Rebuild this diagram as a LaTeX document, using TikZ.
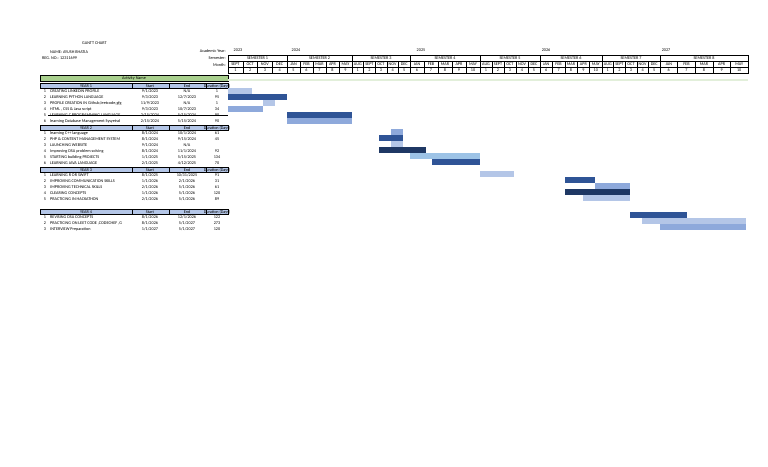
\documentclass[tikz,border=0pt]{standalone}
\usepackage{fontspec}
\setmainfont{Carlito}
\tikzset{every picture/.style={line width=0.4pt}}
\tikzset{
  tiny/.style={inner sep=0pt,font=\fontsize{4.2}{4.6}\selectfont},
  hdrcell/.style={draw=black,fill={rgb,255:red,180;green,198;blue,231},line width=0.6pt},
  lightbar/.style={fill={rgb,255:red,180;green,198;blue,231}},
  medbar/.style={fill={rgb,255:red,142;green,169;blue,219}},
  darkbar/.style={fill={rgb,255:red,47;green,84;blue,150}},
  navybar/.style={fill={rgb,255:red,31;green,56;blue,100}},
  skybar/.style={fill={rgb,255:red,157;green,195;blue,230}}
}
\begin{document}
\begin{tikzpicture}[x=1pt,y=1pt,yscale=-1]
        \useasboundingbox (0,0) rectangle (768,466);

        % title block
        \node[tiny,anchor=west] (title) at (82,43) {GANTT CHART};
        \node[tiny,anchor=west] (name) at (50,52) {NAME: AYUSH BHATIA};
        \node[tiny,anchor=west] (reg) at (42,58) {REG. NO.: 12311699};
        \node[tiny,anchor=east] (acyear) at (226,51) {Academic Year:};
        \node[tiny,anchor=east] (sem) at (226,58) {Semester:};
        \node[tiny,anchor=east] (mon) at (226,65) {Month:};

        % years
        \foreach \x/\y in {238/2023,296/2024,421/2025,546/2026,666/2027}
            \node[tiny] (yr\y) at (\x,50) {\y};

        % semester header with months
        \foreach \a/\b/\s/\ml/\nl [count=\i] in {
            228/287/SEMESTER 1/{SEPT,OCT,NOV,DEC}/{1,2,3,4},
            287/352/SEMESTER 2/{JAN,FEB,MAR,APR,MAY}/{5,6,7,8,9},
            352/410/SEMESTER 3/{AUG,SEPT,OCT,NOV,DEC}/{1,2,3,4,5},
            410/480/SEMESTER 4/{JAN,FEB,MAR,APR,MAY}/{6,7,8,9,10},
            480/540/SEMESTER 5/{AUG,SEPT,OCT,NOV,DEC}/{1,2,3,4,5},
            540/602/SEMESTER 6/{JAN,FEB,MAR,APR,MAY}/{6,7,8,9,10},
            602/660/SEMESTER 7/{AUG,SEPT,OCT,NOV,DEC}/{1,2,3,4,5},
            660/748/SEMESTER 8/{JAN,FEB,MAR,APR,MAY}/{6,7,8,9,10}} {
            \draw[line width=0.6pt] (\a,55) rectangle (\b,73);
            \node[tiny] (sem\i) at ({(\a+\b)/2},58) {\s};
            \pgfmathsetmacro{\w}{(\b-\a)/(\i==1 ? 4 : 5)}
            \foreach \m [count=\j] in \ml {
                \draw (\a+\w*\j-\w,61) rectangle (\a+\w*\j,73);
                \draw (\a+\w*\j-\w,67) -- (\a+\w*\j,67);
                \node[tiny] (m\i-\j) at (\a+\w*\j-\w/2,64) {\m};
            }
            \foreach \k [count=\j] in \nl
                \node[tiny] (n\i-\j) at (\a+\w*\j-\w/2,70) {\k};
        }

        % activity name band
        \fill[fill={rgb,255:red,169;green,208;blue,142}] (40,75) rectangle (228,81);
        \draw (40,75) rectangle (228,81);
        \node[tiny] (act) at (134,78) {Activity Name};
        \fill[fill={rgb,255:red,226;green,239;blue,218}] (228,79) rectangle (748,81);

        % year tables
        \foreach \yy/\t in {83/YEAR 1,125/YEAR 2,167/YEAR 3,209/YEAR 4} {
            \draw[hdrcell] (40,\yy) rectangle (228,\yy+5.5);
            \draw[line width=0.6pt] (132,\yy) -- (132,\yy+5.5) (169,\yy) -- (169,\yy+5.5) (206,\yy) -- (206,\yy+5.5);
            \node[tiny] at (86,\yy+2.8) {\t};
            \node[tiny] at (150,\yy+2.8) {Start};
            \node[tiny] at (187,\yy+2.8) {End};
            \node[tiny] at (217,\yy+2.8) {Duration (Days)};
        }

        % rows
        \foreach \yy/\n/\a/\s/\e/\d in {
            91/1/{CREATING LINKEDIN PROFILE}/{9/1/2023}/{N/A}/1,
            97/2/{LEARNING PYTHON LANGUAGE}/{9/3/2023}/{12/7/2023}/95,
            103/3/{PROFILE CREATION IN Github,leetcode,gfg}/{11/9/2023}/{N/A}/1,
            109/4/{HTML , CSS \& Java script}/{9/3/2023}/{10/7/2023}/34,
            115/5/{LEARNING C PROGRAMMING LANGUAGE}/{2/15/2024}/{5/15/2024}/90,
            121/6/{learning Database Management Sysyetsd}/{2/15/2024}/{5/15/2024}/90,
            133/1/{learning C++ language}/{8/1/2024}/{10/1/2024}/61,
            139/2/{PHP \& CONTENT MANAGEMENT SYSTEM}/{8/1/2024}/{9/15/2024}/45,
            145/3/{LAUNCHING WEBSITE}/{9/1/2024}/{N/A}/{},
            151/4/{Improving DSA problem solving}/{8/1/2024}/{11/1/2024}/92,
            157/5/{STARTING building PROJECTS}/{1/1/2025}/{5/15/2025}/134,
            163/6/{LEARNING JAVA LANGUAGE}/{2/1/2025}/{4/12/2025}/70,
            175/1/{LEARNING R OR SWIFT}/{8/1/2025}/{10/31/2025}/91,
            181/2/{IMPROVING COMMUNICATION SKILLS}/{1/1/2026}/{2/1/2026}/31,
            187/3/{IMPROVING TECHNICAL SKILLS}/{2/1/2026}/{5/1/2026}/61,
            193/4/{CLEARING CONCEPTS}/{1/1/2026}/{5/1/2026}/120,
            199/5/{PRACTICING IN HACKATHON}/{2/1/2026}/{5/1/2026}/89,
            217/1/{REVISING DSA CONCEPTS}/{8/1/2026}/{12/1/2026}/122,
            223/2/{PRACTICING ON LEET CODE ,CODECHEF ,G}/{8/1/2026}/{5/1/2027}/273,
            229/3/{INTERVIEW Preparation}/{1/1/2027}/{5/1/2027}/120} {
            \node[tiny] at (45,\yy) {\n};
            \node[tiny,anchor=west] at (50,\yy) {\a};
            \node[tiny] at (150,\yy) {\s};
            \node[tiny] at (187,\yy) {\e};
            \node[tiny] at (217,\yy) {\d};
        }
        % struck row
        \draw (48,115) -- (228,115);

        % bars
        \fill[lightbar] (228,88) rectangle (252,93.5);
        \fill[darkbar] (228,94) rectangle (287,99.5);
        \fill[lightbar] (263,100) rectangle (275,105.5);
        \fill[medbar] (228,106) rectangle (263,111.5);
        \fill[darkbar] (287,112) rectangle (352,118);
        \fill[medbar] (287,118) rectangle (352,124);
        \fill[medbar] (391,129) rectangle (403,135);
        \fill[darkbar] (379,135) rectangle (403,141);
        \fill[lightbar] (391,141) rectangle (403,147);
        \fill[navybar] (379,147) rectangle (426,153);
        \fill[skybar] (410,153) rectangle (480,159);
        \fill[darkbar] (432,159) rectangle (480,165);
        \fill[lightbar] (480,171) rectangle (514,177);
        \fill[darkbar] (565,177) rectangle (595,183);
        \fill[medbar] (595,183) rectangle (630,189);
        \fill[navybar] (565,189) rectangle (630,195);
        \fill[lightbar] (583,195) rectangle (630,201);
        \fill[darkbar] (630,212) rectangle (687,218);
        \fill[lightbar] (642,218) rectangle (746,224);
        \fill[medbar] (660,224) rectangle (746,230);

\end{tikzpicture}
\end{document}
